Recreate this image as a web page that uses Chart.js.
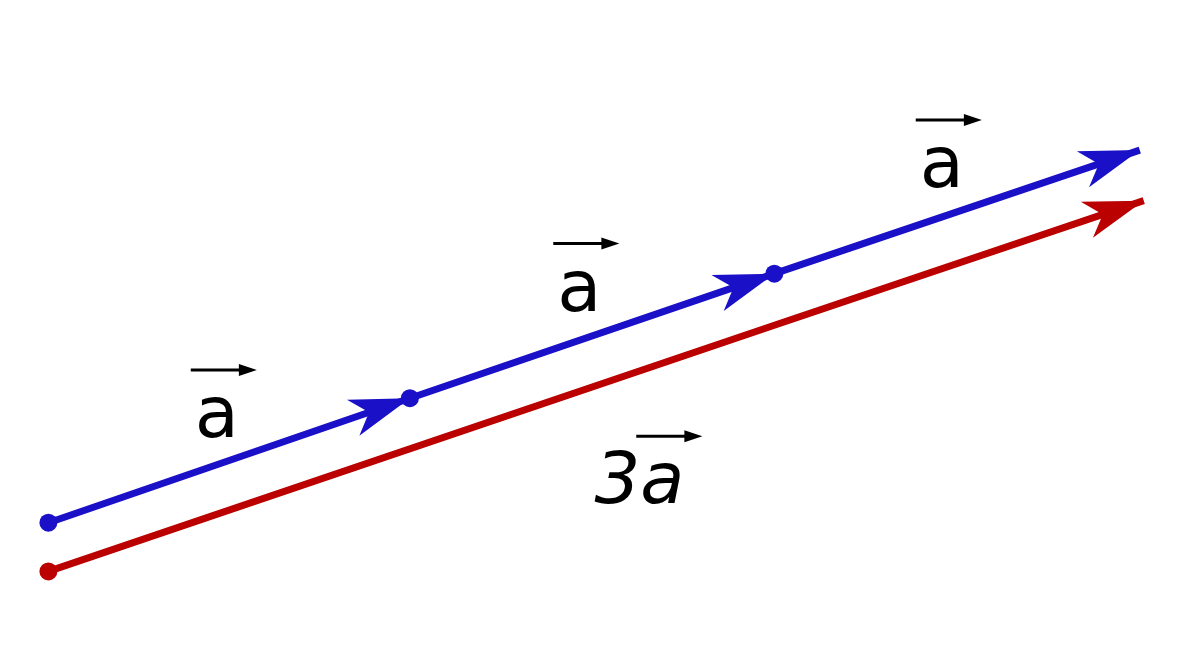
<!DOCTYPE html>
<html>
<head>
<meta charset="utf-8">
<script src="https://cdn.jsdelivr.net/npm/chart.js@4"></script>
<style>
  html, body { margin: 0; padding: 0; background: #fff; }
  #wrap { width: 1200px; height: 666px; }
</style>
</head>
<body>
<div id="wrap"><canvas id="chart" width="1200" height="666"></canvas></div>
<script>
// vector path points (x, y in picture units, y down)
const blueX = [40, 407, 777, 1148];
const blueY = [528, 400, 272, 145];
const redX = [40, 777, 1152];
const redY = [578, 325, 197];

// which points get an arrow tip
const blueArrows = [1, 2, 3];
const redArrows = [2];

// labels
const labelText = ['a', 'a', 'a', '3a'];
const labelX = [211, 579, 947, 640];
const labelY = [440, 310, 183, 508];

const BLUE = '#1a10c8';
const RED = '#bb0000';

function arrowHead(ctx, tx, ty, fx, fy, color) {
    const dx = tx - fx, dy = ty - fy;
    const len = Math.hypot(dx, dy);
    const ux = dx / len, uy = dy / len;
    const nx = -uy, ny = ux;
    const L = 60, W = 19, k = 0.72;
    ctx.save();
    ctx.fillStyle = color;
    ctx.beginPath();
    ctx.moveTo(tx, ty);
    ctx.lineTo(tx - L * ux + W * nx, ty - L * uy + W * ny);
    ctx.lineTo(tx - k * L * ux, ty - k * L * uy);
    ctx.lineTo(tx - L * ux - W * nx, ty - L * uy - W * ny);
    ctx.closePath();
    ctx.fill();
    ctx.restore();
}

const arrowPlugin = {
    id: 'arrows',
    beforeDatasetsDraw(chart) {
        const ctx = chart.ctx;
        const xs = chart.scales.x, ys = chart.scales.y;
        const sets = [[blueX, blueY, blueArrows, BLUE], [redX, redY, redArrows, RED]];
        sets.forEach(([X, Y, idx, col]) => {
            idx.forEach(i => {
                arrowHead(ctx,
                    xs.getPixelForValue(X[i]), ys.getPixelForValue(Y[i]),
                    xs.getPixelForValue(X[i - 1]), ys.getPixelForValue(Y[i - 1]), col);
            });
        });
    },
    afterDatasetsDraw(chart) {
        const ctx = chart.ctx;
        const xs = chart.scales.x, ys = chart.scales.y;
        ctx.save();
        ctx.fillStyle = '#000';
        ctx.strokeStyle = '#000';
        labelText.forEach((t, i) => {
            const px = xs.getPixelForValue(labelX[i]);
            const py = ys.getPixelForValue(labelY[i]);
            const italic = t.length > 1;
            ctx.font = (italic ? 'italic ' : '') + '72px "DejaVu Sans", sans-serif';
            ctx.textAlign = 'center';
            ctx.textBaseline = 'alphabetic';
            ctx.fillText(t, px, py);
            // little arrow over the "a"
            const w = ctx.measureText(t).width;
            const aw = ctx.measureText('a').width;
            const right = px + w / 2 + 18;
            const left = right - aw - 22;
            const ay = py - 67;
            ctx.lineWidth = 3;
            ctx.beginPath();
            ctx.moveTo(left, ay);
            ctx.lineTo(right - 14, ay);
            ctx.stroke();
            ctx.beginPath();
            ctx.moveTo(right, ay);
            ctx.lineTo(right - 18, ay - 6);
            ctx.lineTo(right - 18, ay + 6);
            ctx.closePath();
            ctx.fill();
        });
        ctx.restore();
    }
};

new Chart(document.getElementById('chart'), {
    type: 'scatter',
    data: {
        datasets: [
            {
                data: redX.map((x, i) => ({ x, y: redY[i] })),
                showLine: true,
                borderColor: RED,
                backgroundColor: RED,
                borderWidth: 7,
                pointRadius: [9, 0, 0],
                pointBorderWidth: 0
            },
            {
                data: blueX.map((x, i) => ({ x, y: blueY[i] })),
                showLine: true,
                borderColor: BLUE,
                backgroundColor: BLUE,
                borderWidth: 7,
                pointRadius: [9, 9, 9, 0],
                pointBorderWidth: 0
            }
        ]
    },
    options: {
        responsive: false,
        animation: false,
        layout: { padding: 0 },
        plugins: { legend: { display: false }, tooltip: { enabled: false } },
        scales: {
            x: { type: 'linear', min: 0, max: 1200, display: false },
            y: { type: 'linear', min: 0, max: 666, reverse: true, display: false }
        }
    },
    plugins: [arrowPlugin]
});
</script>
</body>
</html>
